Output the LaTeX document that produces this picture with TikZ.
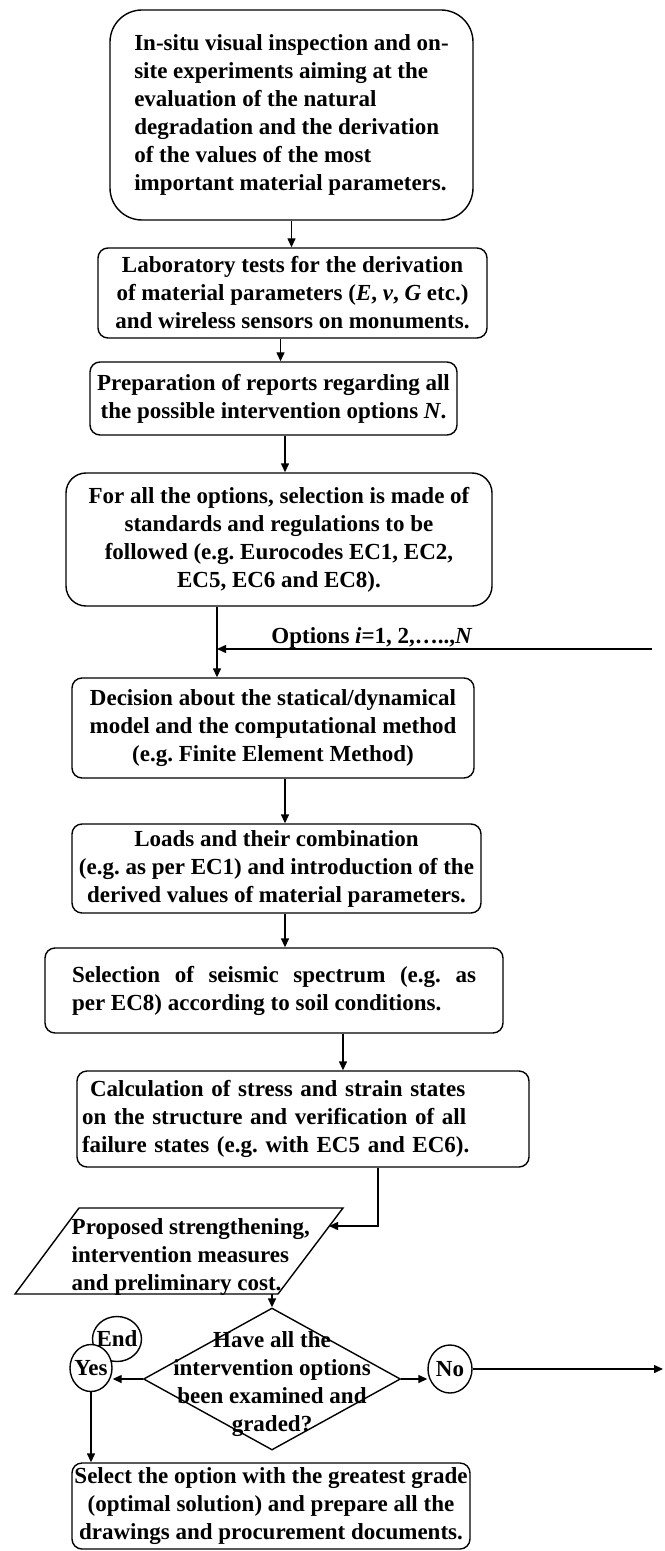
\documentclass[tikz,border=0pt]{standalone}
\usepackage{fontspec}
\setmainfont{Liberation Serif}
\usetikzlibrary{arrows.meta,shapes.geometric}
\frenchspacing
\begin{document}
\begin{tikzpicture}[x=0.5pt, y=-0.5pt, line width=0.7pt, >={Triangle[length=4.5pt,width=4pt]},
stepbox/.style={draw, rounded corners=5pt, align=center, inner xsep=3pt, inner ysep=0pt},
oval/.style={ellipse, draw, fill=white, inner sep=-4pt}]
\useasboundingbox (0,0) rectangle (664,1551);
\begin{scope}[every node/.style={font=\bfseries\fontsize{11.5}{14}\selectfont}]
\node[stepbox, rounded corners=16pt, align=left, minimum width=181.5pt, minimum height=105pt] (insitu) at (291.5,115) {In-situ visual inspection and on-\\site experiments aiming at the\\evaluation of the natural\\degradation and the derivation\\of the values of the most\\important material parameters.};
\node[stepbox, minimum width=194.5pt, minimum height=45pt] (lab) at (292.5,293) {Laboratory tests for the derivation\\of material parameters (\textit{E}, \textit{v}, \textit{G} etc.)\\and wireless sensors on monuments.};
\node[stepbox, minimum width=183.5pt, minimum height=36.5pt] (rep) at (273.5,398.5) {Preparation of reports regarding all\\the possible intervention options \textit{N}.};
\node[stepbox, rounded corners=10pt, minimum width=213pt, minimum height=66.5pt] (std) at (279,539.5) {For all the options, selection is made of\\standards and regulations to be\\followed (e.g. Eurocodes EC1, EC2,\\EC5, EC6 and EC8).};
\node[anchor=base] (optlabel) at (372,643) {Options \textit{i}=1, 2,…..,\textit{N}};
\node[stepbox, minimum width=201pt, minimum height=50pt] (model) at (273,728) {Decision about the statical/dynamical\\model and the computational method\\(e.g. Finite Element Method)};
\node[stepbox, minimum width=204.5pt, minimum height=44.5pt] (loads) at (276.5,868.5) {Loads and their combination\\(e.g. as per EC1) and introduction of the\\derived values of material parameters.};
\node[stepbox, align=justify, text width=202pt, inner xsep=13.5pt, minimum height=42.5pt] (seis) at (274,990.5) {Selection of seismic spectrum (e.g. as\linebreak per EC8) according to soil conditions.};
\node[stepbox, align=left, text width=221pt, inner xsep=2.5pt, minimum height=48pt] (calc) at (303,1119) {\hspace*{4pt}Calculation of stress and strain states\\on the structure and verification of all\\failure states (e.g. with EC5 and EC6).};
\draw (15,1294) -- (79,1208) -- (343,1208) -- (278,1294) -- cycle;
\node[anchor=west, align=left, inner sep=0pt] (prop) at (71,1257) {Proposed strengthening,\\intervention measures\\and preliminary cost.};
\node[diamond, draw, minimum width=128.5pt, minimum height=71pt, inner sep=0pt] (dec) at (272,1379) {};
\node[align=center, inner sep=0pt] (dectext) at (272,1384) {Have all the\\intervention options\\been examined and\\graded?};
\node[oval, minimum width=24.5pt, minimum height=22.5pt] (fin) at (117,1339) {End};
\node[oval, minimum width=21pt, minimum height=23.5pt] (yes) at (91,1368) {Yes};
\node[oval, minimum width=22pt, minimum height=24pt] (no) at (450,1369) {No};
\node[stepbox, inner xsep=1pt, minimum width=199pt, minimum height=43pt] (sel) at (271,1506) {Select the option with the greatest grade\\(optimal solution) and prepare all the\\drawings and procurement documents.};
\coordinate (optjoin) at (217,649);
\coordinate (optstart) at (652,649);
\coordinate (bend) at (378,1226);
\coordinate (propin) at (329,1226);
\coordinate (propout) at (272,1294);
\coordinate (noend) at (663,1369);
\end{scope}
\begin{scope}
\draw[->] (insitu.south) -- (insitu.south |- lab.north);
\draw[->] ([xshift=-6pt]lab.south) -- ([xshift=-6pt]lab.south |- rep.north);
\draw[->] ([xshift=5.75pt]rep.south) -- ([xshift=5.75pt]rep.south |- std.north);
\draw (std.south -| optjoin) -- (optjoin);
\draw[->] (optjoin) -- (model.north -| optjoin);
\draw[->] (optstart) -- (optjoin);
\draw[->] ([xshift=6pt]model.south) -- ([xshift=6pt]model.south |- loads.north);
\draw[->] ([xshift=4.25pt]loads.south) -- ([xshift=4.25pt]loads.south |- seis.north);
\draw[->] ([xshift=34.5pt]seis.south) -- ([xshift=34.5pt]seis.south |- calc.north);
\draw[->] (calc.south -| bend) -- (bend) -- (propin);
\draw[->] (propout) -- (dec.north);
\draw[->] (dec.west) -- (dec.west -| yes.east);
\draw[->] (dec.east) -- (dec.east -| no.west);
\draw[->] (no.east) -- (noend);
\draw[->] (yes.south) -- (yes.south |- sel.north);
%\draw[->] (fin) -- (yes);
\end{scope}
\end{tikzpicture}
\end{document}
